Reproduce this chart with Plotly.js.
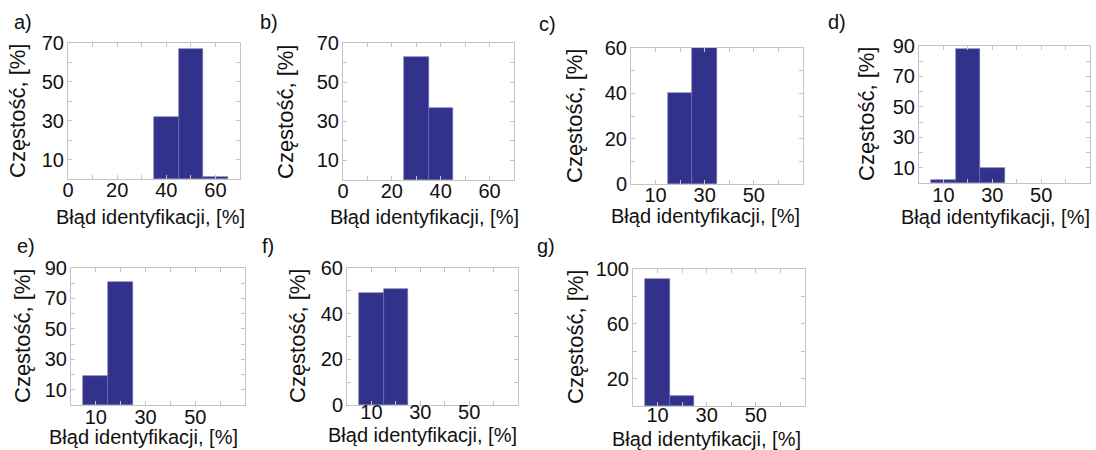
<!DOCTYPE html>
<html>
<head>
<meta charset="utf-8">
<script src="https://cdn.plot.ly/plotly-3.0.1.min.js"></script>
<style>html,body{margin:0;padding:0;background:#fff;}#chart{width:1096px;height:450px;}</style>
</head>
<body>
<div id="chart"></div>
<script>
// ---- data (bin centres in %, frequencies in %) ----
const binsA = [40, 50, 60];   const freqA = [32, 67, 1];
const binsB = [30, 40];       const freqB = [63, 37];
const binsC = [20, 30];       const freqC = [40, 60];
const binsD = [10, 20, 30];   const freqD = [2, 88, 10];
const binsE = [10, 20];       const freqE = [19, 81];
const binsF = [10, 20];       const freqF = [49, 51];
const binsG = [10, 20];       const freqG = [93, 7];

const panelLabels = ['a)', 'b)', 'c)', 'd)', 'e)', 'f)', 'g)'];
const xTitle = 'Błąd identyfikacji, [%]';
const yTitle = 'Częstość, [%]';

// tick labels
const xTickVals = [0, 10, 20, 30, 40, 50, 60, 70];
const xTextAB   = ['0', '', '20', '', '40', '', '60', ''];
const xTextCG   = ['', '10', '', '30', '', '50', '', ''];
const yVals70 = [0, 10, 20, 30, 40, 50, 60, 70];
const yText70 = ['', '10', '', '30', '', '50', '', '70'];
const yVals60 = [0, 10, 20, 30, 40, 50, 60];
const yText60 = ['0', '', '20', '', '40', '', '60'];
const yVals90 = [0, 10, 20, 30, 40, 50, 60, 70, 80, 90];
const yText90 = ['', '10', '', '30', '', '50', '', '70', '', '90'];
const yVals100 = [0, 20, 40, 60, 80, 100];
const yText100 = ['', '20', '', '60', '', '100'];

// ---- layout geometry (pixels) ----
const W = 1096, H = 450;
const panels = [
  {bins: binsA, freq: freqA, xt: xTextAB, yv: yVals70, yt: yText70, yr: [0, 70], box: [68, 240, 43, 179], so: -7, lab: [23, 22], yti: [17, 111], xti: [150, 217]},
  {bins: binsB, freq: freqB, xt: xTextAB, yv: yVals70, yt: yText70, yr: [0, 70], box: [343, 514, 43, 180], so: -7, lab: [269, 22], yti: [285, 112], xti: [424, 217]},
  {bins: binsC, freq: freqC, xt: xTextCG, yv: yVals60, yt: yText60, yr: [0, 60], box: [631, 803, 48, 184], so: -7, lab: [547, 24], yti: [574, 116], xti: [705, 216]},
  {bins: binsD, freq: freqD, xt: xTextCG, yv: yVals90, yt: yText90, yr: [0, 90], box: [919, 1090, 46, 183], so: -6, lab: [837, 22], yti: [866, 114], xti: [996, 217]},
  {bins: binsE, freq: freqE, xt: xTextCG, yv: yVals90, yt: yText90, yr: [0, 90], box: [71, 245, 268, 405], so: -6, lab: [26, 246], yti: [22, 336], xti: [143, 437]},
  {bins: binsF, freq: freqF, xt: xTextCG, yv: yVals60, yt: yText60, yr: [0, 60], box: [347, 518, 268, 405], so: -11, lab: [268, 246], yti: [297, 336], xti: [422, 435]},
  {bins: binsG, freq: freqG, xt: xTextCG, yv: yVals100, yt: yText100, yr: [0, 100], box: [633, 805, 269, 406], so: -9, lab: [546, 246], yti: [575, 337], xti: [706, 439]}
];

const FONT = 'Liberation Sans, Arial, sans-serif';
const FS_TICK = 20, FS_XT = 20, FS_YT = 22, FS_LAB = 20;
const BAR = '#32328c';
const AXC = '#c4c4c4';
const TXT = '#111111';

const traces = [];
const layout = {
  width: W, height: H,
  margin: {l: 0, r: 0, t: 0, b: 0},
  paper_bgcolor: '#ffffff', plot_bgcolor: '#ffffff',
  showlegend: false,
  font: {family: FONT, size: FS_TICK, color: TXT},
  bargap: 0,
  annotations: []
};

panels.forEach((p, i) => {
  const n = i === 0 ? '' : String(i + 1);
  traces.push({
    type: 'bar', x: p.bins, y: p.freq, width: 10,
    xaxis: 'x' + n, yaxis: 'y' + n,
    marker: {color: BAR, line: {color: '#6e6eaa', width: 0.6}},
    hoverinfo: 'x+y'
  });
  const [x0, x1, y0, y1] = p.box;
  layout['xaxis' + n] = {
    domain: [x0 / W, x1 / W], anchor: 'y' + n,
    range: [0, 70], tickmode: 'array', tickvals: xTickVals, ticktext: p.xt,
    ticks: 'inside', ticklen: 4, tickcolor: AXC, tickwidth: 1,
    ticklabelstandoff: p.so,
    showline: true, linecolor: AXC, linewidth: 1, mirror: 'ticks',
    showgrid: false, zeroline: false, fixedrange: true,
    tickfont: {family: FONT, size: FS_TICK, color: TXT}
  };
  layout['yaxis' + n] = {
    domain: [1 - y1 / H, 1 - y0 / H], anchor: 'x' + n,
    range: p.yr, tickmode: 'array', tickvals: p.yv, ticktext: p.yt,
    ticks: 'inside', ticklen: 4, tickcolor: AXC, tickwidth: 1,
    ticklabelstandoff: -1,
    showline: true, linecolor: AXC, linewidth: 1, mirror: 'ticks',
    showgrid: false, zeroline: false, fixedrange: true,
    tickfont: {family: FONT, size: FS_TICK, color: TXT}
  };
  layout.annotations.push({
    text: panelLabels[i], xref: 'paper', yref: 'paper',
    x: p.lab[0] / W, y: 1 - p.lab[1] / H, xanchor: 'center', yanchor: 'middle',
    showarrow: false, font: {family: FONT, size: FS_LAB, color: TXT}
  });
  layout.annotations.push({
    text: yTitle, xref: 'paper', yref: 'paper', textangle: -90,
    x: p.yti[0] / W, y: 1 - p.yti[1] / H, xanchor: 'center', yanchor: 'middle',
    showarrow: false, font: {family: FONT, size: FS_YT, color: TXT}
  });
  layout.annotations.push({
    text: xTitle, xref: 'paper', yref: 'paper',
    x: p.xti[0] / W, y: 1 - p.xti[1] / H, xanchor: 'center', yanchor: 'middle',
    showarrow: false, font: {family: FONT, size: FS_XT, color: TXT}
  });
});

Plotly.newPlot('chart', traces, layout, {displayModeBar: false});
</script>
</body>
</html>
